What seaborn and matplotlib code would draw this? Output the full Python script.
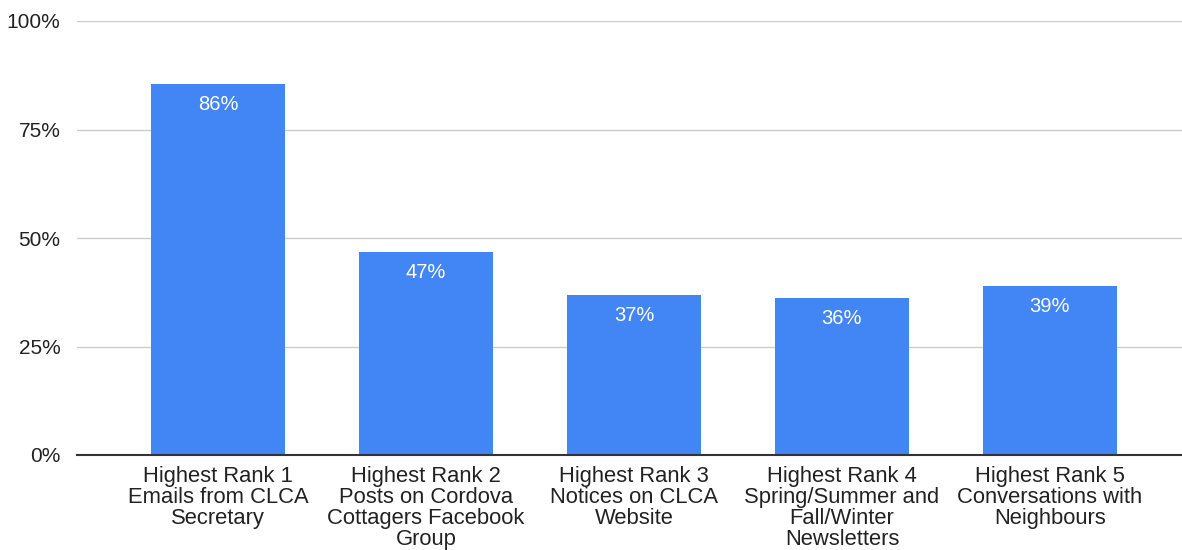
import matplotlib
matplotlib.use("Agg")
import matplotlib.pyplot as plt
import seaborn as sns
import pandas as pd
from matplotlib.ticker import FuncFormatter

categories = [
    "Highest Rank 1\nEmails from CLCA\nSecretary",
    "Highest Rank 2\nPosts on Cordova\nCottagers Facebook\nGroup",
    "Highest Rank 3\nNotices on CLCA\nWebsite",
    "Highest Rank 4\nSpring/Summer and\nFall/Winter\nNewsletters",
    "Highest Rank 5\nConversations with\nNeighbours",
]
values = [0.855, 0.468, 0.369, 0.362, 0.389]
value_labels = ["86%", "47%", "37%", "36%", "39%"]
yticks = [0, 0.25, 0.5, 0.75, 1.0]

sns.set_theme(style="white")
plt.rcParams['font.family'] = ['Liberation Sans', 'DejaVu Sans']

df = pd.DataFrame({"cat": categories, "val": values})

fig = plt.figure(figsize=(11.82, 5.5), dpi=100)
ax = fig.add_axes([77/1182, 95/550, 1105/1182, 434/550])
sns.barplot(data=df, x="cat", y="val", color="#4285F4", saturation=1, width=0.645,
            ax=ax, zorder=3, linewidth=0)

ax.set_ylim(0, 1.0)
ax.set_xlim(-0.678, 4.635)
ax.set_yticks(yticks)
ax.yaxis.set_major_formatter(FuncFormatter(lambda v, p: f"{int(round(v*100))}%"))
ax.grid(axis="y", color="#cccccc", linewidth=1, zorder=0)
ax.set_axisbelow(True)
for s in ["top", "right", "left"]:
    ax.spines[s].set_visible(False)
ax.spines["bottom"].set_color("#333333")
ax.spines["bottom"].set_linewidth(1.5)
ax.spines["bottom"].set_zorder(5)
ax.set_xlabel("")
ax.set_ylabel("")
ax.tick_params(axis="y", length=0, pad=12, labelsize=15, labelcolor="#222222")
ax.tick_params(axis="x", length=0, pad=8, labelsize=15.8, labelcolor="#222222")
for lab in ax.get_xticklabels():
    lab.set_linespacing(1.0)
    lab.set_horizontalalignment("center")

for i, (v, t) in enumerate(zip(values, value_labels)):
    ax.annotate(t, xy=(i, v), xytext=(0, -8), textcoords="offset points",
                ha="center", va="top", color="white", fontsize=14.5, zorder=6)

fig.savefig("out.png", dpi=100)
